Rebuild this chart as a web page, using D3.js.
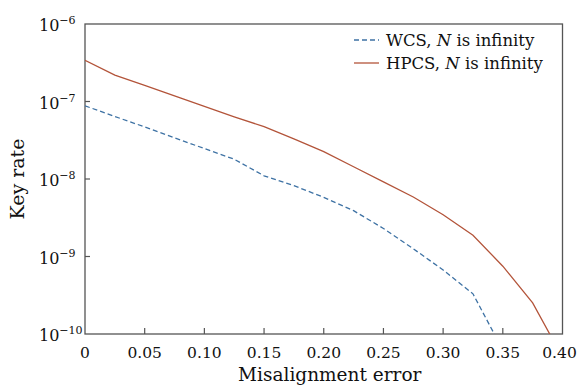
<!DOCTYPE html>
<html>
<head>
<meta charset="utf-8">
<script src="https://cdn.jsdelivr.net/npm/d3@7"></script>
<style>
  body { margin: 0; background: #fff; }
  text { font-family: "DejaVu Serif", serif; fill: #111; }
</style>
</head>
<body>
<div id="chart"></div>
<script>
// misalignment error (x) and key rates
const misalignment = [0, 0.025, 0.05, 0.075, 0.1, 0.125, 0.15, 0.175, 0.2, 0.225, 0.25, 0.275, 0.3, 0.325, 0.35, 0.375, 0.4];
const wcsRate = [8.8e-8, 6.4e-8, 4.7e-8, 3.4e-8, 2.47e-8, 1.8e-8, 1.1e-8, 8.2e-9, 5.8e-9, 3.9e-9, 2.3e-9, 1.26e-9, 6.7e-10, 3.3e-10, 6.2e-11, null, null];
const hpcsRate = [3.4e-7, 2.19e-7, 1.61e-7, 1.18e-7, 8.65e-8, 6.34e-8, 4.74e-8, 3.3e-8, 2.26e-8, 1.44e-8, 9.2e-9, 5.85e-9, 3.46e-9, 1.88e-9, 7.5e-10, 2.52e-10, 5e-11];
const xTicks = [0, 0.05, 0.10, 0.15, 0.20, 0.25, 0.30, 0.35, 0.40];
const xTickLabels = ["0", "0.05", "0.10", "0.15", "0.20", "0.25", "0.30", "0.35", "0.40"];
const yExponents = [-6, -7, -8, -9, -10];
const seriesNames = ["WCS", "HPCS"];

const width = 579, height = 386;
const margin = { top: 24, right: 16.5, bottom: 52, left: 85 };
const innerW = width - margin.left - margin.right;
const innerH = height - margin.top - margin.bottom;

const x = d3.scaleLinear().domain([0, 0.4]).range([0, innerW]);
const y = d3.scaleLog().domain([1e-10, 1e-6]).range([innerH, 0]);

const svg = d3.select("#chart").append("svg")
    .attr("width", width)
    .attr("height", height);

const g = svg.append("g")
    .attr("transform", "translate(" + margin.left + "," + margin.top + ")");

g.append("defs").append("clipPath").attr("id", "clip")
  .append("rect").attr("width", innerW).attr("height", innerH);

// frame
g.append("rect")
    .attr("width", innerW)
    .attr("height", innerH)
    .attr("fill", "none")
    .attr("stroke", "#555")
    .attr("stroke-width", 1.3);

// x ticks (inward)
g.selectAll(".xtick").data(xTicks.slice(1, -1)).enter().append("line")
    .attr("x1", d => x(d)).attr("x2", d => x(d))
    .attr("y1", innerH).attr("y2", innerH - 6)
    .attr("stroke", "#555").attr("stroke-width", 1.2);

g.selectAll(".xlabel").data(xTicks).enter().append("text")
    .attr("x", d => x(d))
    .attr("dx", (d, i) => i === xTicks.length - 1 ? -3 : 0)
    .attr("y", innerH + 24)
    .attr("text-anchor", "middle")
    .style("font-size", "15.5px")
    .text((d, i) => xTickLabels[i]);

// y ticks (inward)
g.selectAll(".ytick").data(yExponents.slice(1, -1)).enter().append("line")
    .attr("x1", 0).attr("x2", 5)
    .attr("y1", d => y(Math.pow(10, d))).attr("y2", d => y(Math.pow(10, d)))
    .attr("stroke", "#555").attr("stroke-width", 1.2);

const ylab = g.selectAll(".ylabel").data(yExponents).enter().append("text")
    .attr("x", -46)
    .attr("y", d => y(Math.pow(10, d)) + 7)
    .style("font-size", "16px");
ylab.append("tspan").text("10");
ylab.append("tspan")
    .attr("dy", -7)
    .style("font-size", "11px")
    .text(d => "\u2212" + Math.abs(d));

// lines
const line = d3.line()
    .defined(d => d[1] != null)
    .x(d => x(d[0]))
    .y(d => y(d[1]));

const plot = g.append("g").attr("clip-path", "url(#clip)");

plot.append("path")
    .datum(misalignment.map((m, i) => [m, wcsRate[i]]))
    .attr("d", line)
    .attr("fill", "none")
    .attr("stroke", "#3e72a4")
    .attr("stroke-width", 1.3)
    .attr("stroke-dasharray", "5,3");

plot.append("path")
    .datum(misalignment.map((m, i) => [m, hpcsRate[i]]))
    .attr("d", line)
    .attr("fill", "none")
    .attr("stroke", "#b3543a")
    .attr("stroke-width", 1.3);

// legend
const legend = g.append("g").attr("transform", "translate(" + (innerW - 208.5) + ",16)");
const legendStyles = [
  { color: "#3e72a4", dash: "5,3" },
  { color: "#b3543a", dash: null }
];
seriesNames.forEach((name, i) => {
  const row = legend.append("g").attr("transform", "translate(0," + (i * 23) + ")");
  row.append("line")
      .attr("x1", 0).attr("x2", 25)
      .attr("stroke", legendStyles[i].color)
      .attr("stroke-width", 1.3)
      .attr("stroke-dasharray", legendStyles[i].dash);
  const t = row.append("text")
      .attr("x", 32).attr("y", 6)
      .style("font-size", "16.5px");
  t.append("tspan").text(name + ", ");
  t.append("tspan").style("font-style", "italic").text("N");
  t.append("tspan").text(" is infinity");
});

// axis titles
g.append("text")
    .attr("x", innerW / 2 + 6)
    .attr("y", innerH + 47)
    .attr("text-anchor", "middle")
    .style("font-size", "18.5px")
    .text("Misalignment error");

g.append("text")
    .attr("transform", "translate(" + (-61) + "," + (innerH / 2) + ") rotate(-90)")
    .attr("text-anchor", "middle")
    .style("font-size", "19px")
    .text("Key rate");
</script>
</body>
</html>
